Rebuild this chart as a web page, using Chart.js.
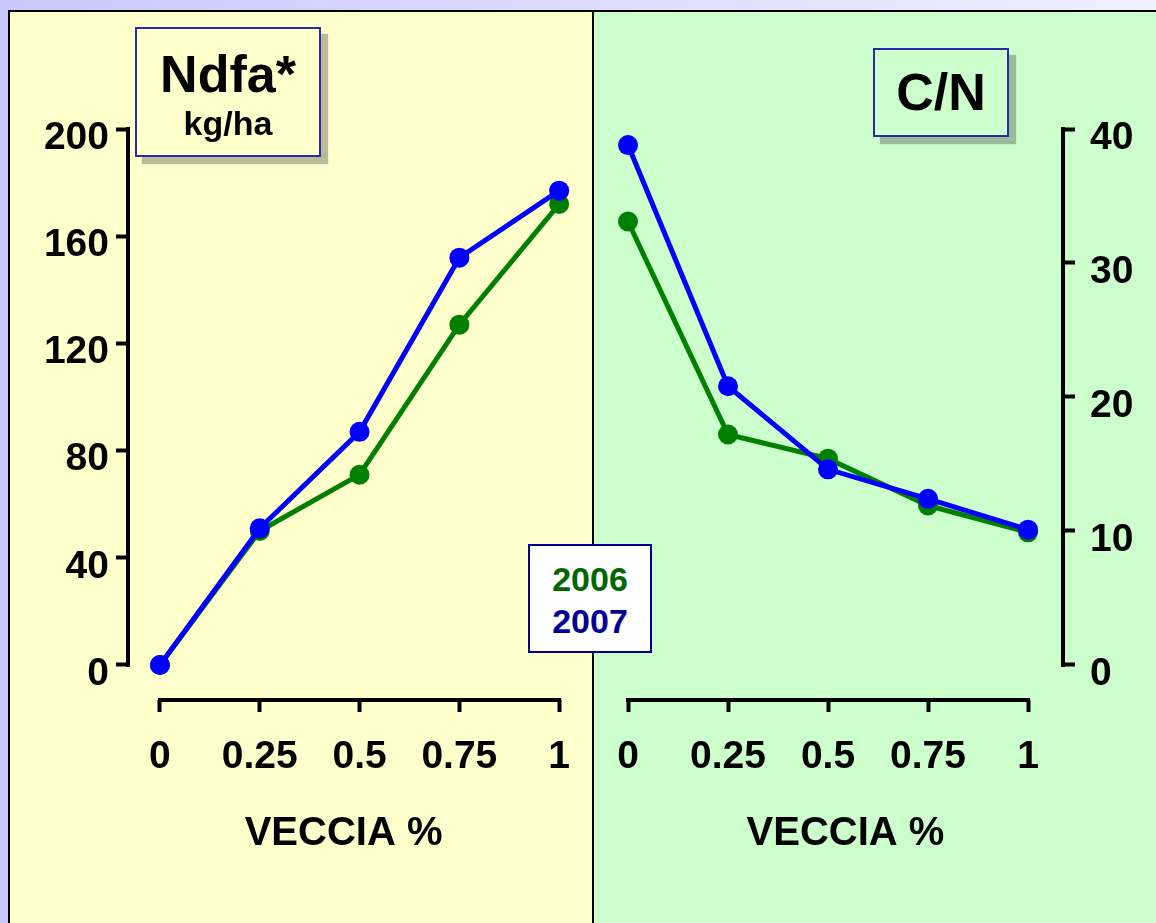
<!DOCTYPE html>
<html>
<head>
<meta charset="utf-8">
<title>Ndfa - C/N</title>
<script src="https://cdn.jsdelivr.net/npm/chart.js@4"></script>
<style>
    html, body {
        margin: 0;
        padding: 0;
        width: 1156px;
        height: 923px;
        overflow: hidden;
        font-family: "Liberation Sans", Arial, sans-serif;
        background: linear-gradient(to right, #c8c8ff, #f0f0ff);
    }
    .panel {
        position: absolute;
        top: 10px;
        height: 913px;
        box-sizing: border-box;
        border-top: 2px solid #000;
    }
    #panel-left {
        left: 8px;
        width: 586px;
        background: #ffffcc;
        border-left: 2px solid #000;
        border-right: 2px solid #000;
    }
    #panel-right {
        left: 594px;
        width: 562px;
        background: #ccffcc;
    }
    canvas {
        position: absolute;
        top: 12px;
    }
    #chart-ndfa { left: 10px; }
    #chart-cn { left: 594px; }
    .box {
        position: absolute;
        box-sizing: border-box;
        border: 2px solid #2a2aa8;
        text-align: center;
        font-weight: bold;
        color: #000;
        box-shadow: 7px 7px 1px rgba(60, 60, 60, 0.35);
    }
    #title-ndfa {
        left: 135px;
        top: 27px;
        width: 186px;
        height: 130px;
        background: #ffffcc;
    }
    #title-ndfa .main { font-size: 52px; line-height: 52px; margin-top: 19px; }
    #title-ndfa .unit { font-size: 34px; line-height: 34px; margin-top: 6px; }
    #title-cn {
        left: 873px;
        top: 48px;
        width: 136px;
        height: 89px;
        background: #ccffcc;
        font-size: 52px;
        line-height: 85px;
    }
    #legend {
        left: 528px;
        top: 544px;
        width: 124px;
        height: 109px;
        background: #fff;
        border-color: #000099;
        box-shadow: none;
        font-size: 34px;
        line-height: 42px;
        padding-top: 12px;
    }
    #legend .y2006 { color: #006600; }
    #legend .y2007 { color: #000099; }
</style>
</head>
<body>
<div class="panel" id="panel-left"></div>
<div class="panel" id="panel-right"></div>
<canvas id="chart-ndfa" width="582" height="911"></canvas>
<canvas id="chart-cn" width="562" height="911"></canvas>
<div class="box" id="title-ndfa"><div class="main">Ndfa*</div><div class="unit">kg/ha</div></div>
<div class="box" id="title-cn">C/N</div>
<div class="box" id="legend"><div class="y2006">2006</div><div class="y2007">2007</div></div>
<script>
/**
 * Values.
 */
const VECCIA = [0, 0.25, 0.5, 0.75, 1];
const X_TICKS = [0, 0.25, 0.5, 0.75, 1];

const NDFA_2006 = [0, 50, 71, 127, 172];
const NDFA_2007 = [0, 51, 87, 152, 177];
const NDFA_TICKS = [0, 40, 80, 120, 160, 200];

const CN_2006 = [33.1, 17.2, 15.4, 11.9, 9.9];
const CN_2007 = [38.8, 20.8, 14.6, 12.4, 10.1];
const CN_TICKS = [0, 10, 20, 30, 40];

const X_TITLE = 'VECCIA %';
const GREEN = '#008000';
const BLUE = '#0000ff';
const FONT = '"Liberation Sans", Arial, sans-serif';

/**
 * The axis lines only run over the tick range, so they are drawn here
 * from the scales instead of using the scale border.
 */
const axisLines = {
    id: 'axisLines',
    afterDraw(chart) {
        const ctx = chart.ctx;
        const x = chart.scales.x;
        const y = chart.scales.y;
        const yTicks = y.ticks.map((t) => t.value);
        const xTicks = x.ticks.map((t) => t.value);
        const yAxisX = y.position === 'left' ? chart.chartArea.left : chart.chartArea.right;
        const xAxisY = chart.chartArea.bottom;

        ctx.save();
        ctx.strokeStyle = '#000';
        ctx.lineWidth = 4;
        ctx.lineCap = 'square';
        ctx.beginPath();
        ctx.moveTo(yAxisX, y.getPixelForValue(Math.max(...yTicks)));
        ctx.lineTo(yAxisX, y.getPixelForValue(Math.min(...yTicks)));
        ctx.moveTo(x.getPixelForValue(Math.min(...xTicks)), xAxisY);
        ctx.lineTo(x.getPixelForValue(Math.max(...xTicks)), xAxisY);
        ctx.stroke();
        ctx.restore();
    }
};

const makeDataset = (label, values, color, order) => ({
    label,
    data: VECCIA.map((v, i) => ({ x: v, y: values[i] })),
    borderColor: color,
    backgroundColor: color,
    borderWidth: 5,
    pointRadius: 10,
    pointBorderWidth: 0,
    clip: false,
    order
});

/**
 * Builds one of the two panels.
 * @param {string} id canvas id
 * @param {Object} cfg per-panel settings
 */
const drawPanel = (id, cfg) => {
    const ctx = document.getElementById(id).getContext('2d');
    const tickFont = { family: FONT, size: 39, weight: 'bold' };

    return new Chart(ctx, {
        type: 'line',
        data: {
            datasets: [
                makeDataset('2006', cfg.s2006, GREEN, 1),
                makeDataset('2007', cfg.s2007, BLUE, 0)
            ]
        },
        options: {
            responsive: false,
            animation: false,
            devicePixelRatio: 1,
            layout: { padding: cfg.padding },
            plugins: {
                legend: { display: false },
                tooltip: { enabled: false }
            },
            scales: {
                x: {
                    type: 'linear',
                    min: cfg.xMin,
                    max: cfg.xMax,
                    afterBuildTicks: (scale) => { scale.ticks = X_TICKS.map((v) => ({ value: v })); },
                    afterFit: (scale) => { scale.height = 223; },
                    border: { display: false },
                    grid: {
                        drawOnChartArea: false,
                        drawTicks: true,
                        tickLength: 12,
                        tickWidth: 4,
                        tickColor: '#000'
                    },
                    ticks: {
                        color: '#000',
                        font: tickFont,
                        padding: 22,
                        maxRotation: 0,
                        autoSkip: false,
                        callback: (v) => String(v)
                    },
                    title: {
                        display: true,
                        text: X_TITLE,
                        color: '#000',
                        font: { family: FONT, size: 40, weight: 'bold' },
                        padding: { top: 0, bottom: 65 }
                    }
                },
                y: {
                    type: 'linear',
                    position: cfg.yPosition,
                    min: cfg.yMin,
                    max: cfg.yMax,
                    afterBuildTicks: (scale) => { scale.ticks = cfg.yTicks.map((v) => ({ value: v })); },
                    afterFit: (scale) => { scale.width = cfg.yWidth; },
                    border: { display: false },
                    grid: {
                        drawOnChartArea: false,
                        drawTicks: true,
                        tickLength: 12,
                        tickWidth: 4,
                        tickColor: '#000'
                    },
                    ticks: {
                        color: '#000',
                        font: tickFont,
                        padding: cfg.yPad,
                        labelOffset: 9,
                        autoSkip: false,
                        callback: (v) => String(v)
                    }
                }
            }
        },
        plugins: [axisLines]
    });
};

const onDOMLoaded = () => {
    drawPanel('chart-ndfa', {
        s2006: NDFA_2006,
        s2007: NDFA_2007,
        yTicks: NDFA_TICKS,
        yPosition: 'left',
        yMin: -13.06,
        yMax: 200,
        xMin: -0.08,
        xMax: 1,
        yWidth: 118,
        yPad: 7,
        padding: { left: 0, right: 32, top: 117, bottom: 0 }
    });

    drawPanel('chart-cn', {
        s2006: CN_2006,
        s2007: CN_2007,
        yTicks: CN_TICKS,
        yPosition: 'right',
        yMin: -2.612,
        yMax: 40,
        xMin: 0,
        xMax: 1.0875,
        yWidth: 93,
        yPad: 15,
        padding: { left: 34, right: 0, top: 117, bottom: 0 }
    });
};

document.addEventListener('DOMContentLoaded', onDOMLoaded);
</script>
</body>
</html>
